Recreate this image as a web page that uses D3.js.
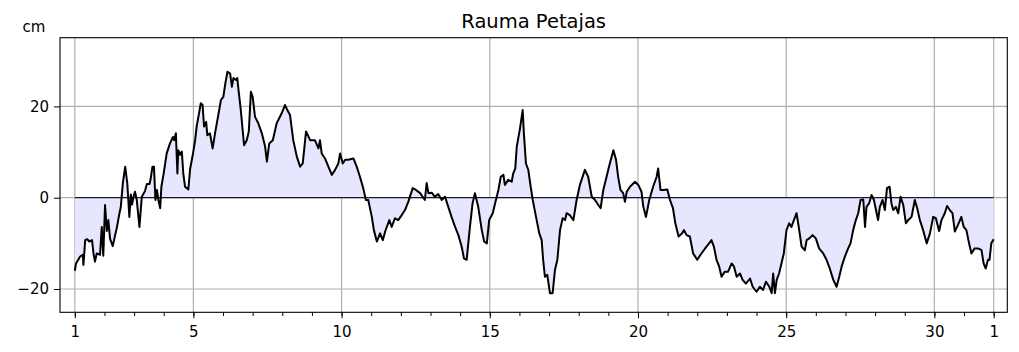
<!DOCTYPE html>
<html><head><meta charset="utf-8">
<script src="https://cdn.jsdelivr.net/npm/d3@7"></script>
<style>
html,body{margin:0;padding:0;background:#fff;}
svg{display:block;font-family:"DejaVu Sans",sans-serif;}
</style></head>
<body><svg id="c" width="1019" height="352"></svg>
<script>
const title = "Rauma Petajas";
const unitLabel = "cm";
const tickDays = [1, 5, 10, 15, 20, 25, 30, 32];
const tickLabels = ["1", "5", "10", "15", "20", "25", "30", "1"];
const yTicks = [-20, 0, 20];
const minorDays = d3.range(1, 33);

const days = [
1.00,1.04,1.18,1.27,1.29,1.35,1.42,1.49,1.58,1.63,1.68,1.74,1.85,1.91,1.96,2.02,2.08,2.13,2.19,2.28,
2.36,2.42,2.50,2.55,2.62,2.70,2.77,2.84,2.89,2.93,2.98,3.03,3.09,3.18,3.26,3.37,3.43,3.52,3.56,3.62,
3.67,3.72,3.77,3.82,3.88,3.92,3.99,4.10,4.21,4.31,4.35,4.41,4.46,4.49,4.55,4.61,4.66,4.72,4.83,4.89,
4.98,5.06,5.11,5.18,5.25,5.31,5.36,5.43,5.47,5.56,5.65,5.73,5.84,5.93,6.01,6.08,6.15,6.24,6.30,6.35,
6.44,6.48,6.53,6.60,6.71,6.80,6.87,6.94,7.00,7.08,7.19,7.31,7.42,7.48,7.56,7.68,7.81,7.98,8.09,8.17,
8.26,8.37,8.49,8.60,8.69,8.80,8.94,9.10,9.22,9.27,9.33,9.44,9.67,9.78,9.89,9.95,
10.04,10.12,10.23,10.40,10.51,10.62,10.73,10.82,10.90,11.02,11.09,11.19,11.30,11.39,11.47,11.61,11.69,11.80,11.91,
12.03,12.14,12.25,12.40,12.51,12.65,12.81,12.87,12.93,13.04,13.15,13.26,13.38,13.49,13.60,13.71,13.83,13.94,
14.05,14.13,14.22,14.33,14.42,14.50,14.61,14.73,14.81,14.90,14.98,15.10,15.18,15.29,15.37,15.46,15.51,15.62,15.74,
15.79,15.86,15.91,16.02,16.11,16.15,16.22,16.30,16.38,16.45,16.56,16.67,16.75,16.80,16.86,16.94,17.03,17.12,
17.20,17.28,17.37,17.46,17.54,17.59,17.70,17.82,17.93,18.04,18.21,18.32,18.44,18.55,18.66,18.74,18.83,18.94,
19.05,19.17,19.26,19.33,19.41,19.50,19.56,19.62,19.73,19.90,20.01,20.12,20.18,20.27,20.38,20.51,20.63,20.68,
20.76,20.85,20.99,21.08,21.18,21.26,21.37,21.49,21.55,21.64,21.75,21.86,22.00,22.11,22.22,22.31,22.40,22.48,
22.56,22.65,22.74,22.82,22.93,23.04,23.16,23.24,23.33,23.44,23.53,23.64,23.78,23.87,24.00,24.11,24.22,24.32,
24.43,24.51,24.56,24.62,24.68,24.76,24.84,24.92,25.01,25.10,25.18,25.26,25.35,25.44,25.52,25.63,25.69,25.78,
25.89,26.00,26.11,26.25,26.36,26.47,26.59,26.70,26.79,26.87,26.98,27.09,27.17,27.26,27.35,27.43,27.51,27.60,
27.66,27.71,27.80,27.88,27.96,28.03,28.10,28.16,28.25,28.33,28.40,28.49,28.55,28.61,28.70,28.78,28.86,28.95,
29.04,29.12,29.23,29.34,29.42,29.51,29.62,29.74,29.85,29.96,30.05,30.16,30.24,30.35,30.43,30.52,30.61,30.69,
30.80,30.91,30.99,31.08,31.17,31.25,31.36,31.47,31.59,31.66,31.73,31.81,31.86,31.92,32.00
];
const levels = [
-16.0,-14.4,-12.9,-12.5,-14.7,-9.3,-9.1,-9.6,-9.3,-12.2,-14.0,-12.2,-12.5,-6.4,-12.7,-1.6,-7.3,-4.9,-9.0,-10.6,
-8.2,-6.5,-3.6,-2.1,3.2,6.8,3.2,-4.2,0.7,-1.5,0.2,1.3,-0.5,-6.4,0.2,1.5,3.0,3.0,4.2,6.8,
6.8,-0.5,1.7,-0.5,-2.3,2.4,5.0,9.7,11.9,13.3,12.6,14.1,5.3,10.4,9.4,10.1,5.3,2.4,1.8,6.3,
9.4,12.6,15.6,18.1,20.7,20.3,15.6,16.6,13.7,14.1,10.8,14.1,18.1,21.4,22.1,25.1,27.6,27.2,24.3,26.2,
25.8,26.2,23.2,19.2,11.5,12.6,14.5,23.2,22.1,17.7,16.3,14.1,11.2,7.9,11.9,12.6,16.3,18.5,20.3,19.2,
18.1,12.6,9.0,6.8,7.5,14.5,12.6,12.6,10.8,12.6,9.7,8.6,5.0,6.1,7.5,9.7,
7.5,8.3,8.3,8.6,6.8,4.6,2.1,-0.5,-0.5,-4.2,-7.1,-9.6,-7.8,-9.3,-7.4,-4.9,-6.4,-4.5,-4.9,
-3.8,-2.7,-0.9,2.1,1.7,1.0,-0.5,3.2,1.0,1.1,0.2,0.8,-0.5,0.2,-2.0,-4.2,-6.4,-8.2,
-10.7,-13.3,-13.6,-6.4,-1.2,1.0,-2.0,-7.1,-9.6,-10.0,-4.9,-3.4,-1.2,1.7,4.6,5.0,2.8,3.9,3.5,
5.3,6.4,11.2,15.2,19.2,14.1,7.5,6.1,2.4,-0.5,-4.2,-7.8,-9.3,-13.6,-17.3,-16.9,-20.9,-20.9,
-15.8,-13.6,-7.1,-4.5,-4.9,-3.4,-3.8,-4.9,-0.5,2.8,6.1,4.6,0.2,-0.5,-1.6,-2.3,1.7,4.6,
7.5,10.4,8.3,4.6,1.7,1.0,-0.9,1.3,2.4,3.5,2.8,1.3,-2.0,-4.2,-0.5,2.4,4.6,6.4,
1.7,1.7,1.8,-0.5,-2.3,-5.6,-8.5,-7.8,-7.1,-8.2,-8.5,-12.2,-13.6,-12.5,-11.5,-10.7,-10.0,-9.3,
-10.7,-13.6,-15.1,-17.3,-16.2,-16.2,-14.4,-15.1,-17.3,-16.6,-18.0,-18.8,-17.7,-19.5,-20.6,-19.5,-20.2,-18.4,
-19.5,-20.9,-16.6,-20.9,-18.0,-16.6,-14.4,-12.2,-7.1,-5.6,-6.4,-4.9,-3.4,-7.1,-10.7,-11.5,-9.3,-8.9,
-8.2,-8.9,-11.1,-12.2,-13.6,-15.5,-18.0,-19.5,-17.3,-15.1,-12.9,-11.1,-10.0,-7.1,-4.9,-3.4,-0.5,-0.4,
-6.4,-2.0,-1.2,0.6,-0.5,-2.7,-4.9,-2.0,-0.5,-2.7,2.1,2.4,-1.2,-2.7,-2.0,-3.4,0.2,-1.6,
-5.6,-4.9,-4.2,-0.5,-2.3,-4.9,-7.1,-10.0,-7.8,-4.2,-4.5,-7.3,-4.9,-3.4,-1.8,-2.7,-3.4,-7.4,
-5.9,-4.2,-6.4,-7.1,-10.0,-12.2,-11.1,-11.1,-11.5,-14.4,-15.5,-13.6,-13.6,-10.0,-9.1
];

const data = days.map((d, i) => ({d, v: levels[i]}));

const svg = d3.select("#c");
const L = 60, R = 1007.3, T = 37.7, B = 312.3;
const x = d3.scaleLinear().domain([0.5, 32.46]).range([L, R]);
const y = d3.scaleLinear().domain([-25.1, 35.05]).range([B, T]);

// grid
const grid = svg.append("g");
grid.selectAll("line.v").data(tickDays).enter().append("line")
  .attr("x1", d => x(d)).attr("x2", d => x(d)).attr("y1", T).attr("y2", B)
  .attr("stroke", "#b0b0b0").attr("stroke-width", 1.2);
grid.selectAll("line.h").data(yTicks).enter().append("line")
  .attr("x1", L).attr("x2", R).attr("y1", d => y(d)).attr("y2", d => y(d))
  .attr("stroke", "#b0b0b0").attr("stroke-width", 1.2);

// fill
const area = d3.area().x(p => x(p.d)).y0(y(0)).y1(p => y(p.v));
svg.append("path").datum(data).attr("d", area).attr("fill", "#e6e6ff");

// zero line
svg.append("line").attr("x1", x(days[0])).attr("x2", x(days[days.length - 1]))
  .attr("y1", y(0)).attr("y2", y(0)).attr("stroke", "#1a1a2a").attr("stroke-width", 1.2);

// data line
const line = d3.line().x(p => x(p.d)).y(p => y(p.v));
svg.append("path").datum(data).attr("d", line).attr("fill", "none")
  .attr("stroke", "#000").attr("stroke-width", 2).attr("stroke-linejoin", "round");

// frame
svg.append("rect").attr("x", L).attr("y", T).attr("width", R - L).attr("height", B - T)
  .attr("fill", "none").attr("stroke", "#000").attr("stroke-width", 1.1);

// axes
const xMinor = d3.axisBottom(x).tickValues(minorDays).tickSize(3.7).tickFormat("");
const gMinor = svg.append("g").attr("transform", `translate(0,${B})`).call(xMinor);
const xAxis = d3.axisBottom(x).tickValues(tickDays).tickSize(6)
  .tickPadding(8).tickFormat((d, i) => tickLabels[i]);
const gx = svg.append("g").attr("transform", `translate(0,${B})`).call(xAxis);
const yAxis = d3.axisLeft(y).tickValues(yTicks).tickSize(6).tickPadding(5)
  .tickFormat(d => d < 0 ? "\u2212" + Math.abs(d) : d);
const gy = svg.append("g").attr("transform", `translate(${L},0)`).call(yAxis);
[gMinor, gx, gy].forEach(g => {
  g.select(".domain").remove();
  g.selectAll("line").attr("stroke", "#000").attr("stroke-width", 1);
  g.selectAll("text").attr("font-family", "DejaVu Sans").attr("font-size", 15).attr("fill", "#000");
});

svg.append("text").attr("x", (L + R) / 2).attr("y", 28).attr("text-anchor", "middle")
  .attr("font-size", 19.5).attr("fill", "#000").text(title);
svg.append("text").attr("x", 22.5).attr("y", 31.5).attr("font-size", 15).attr("fill", "#000").text(unitLabel);
</script></body></html>
